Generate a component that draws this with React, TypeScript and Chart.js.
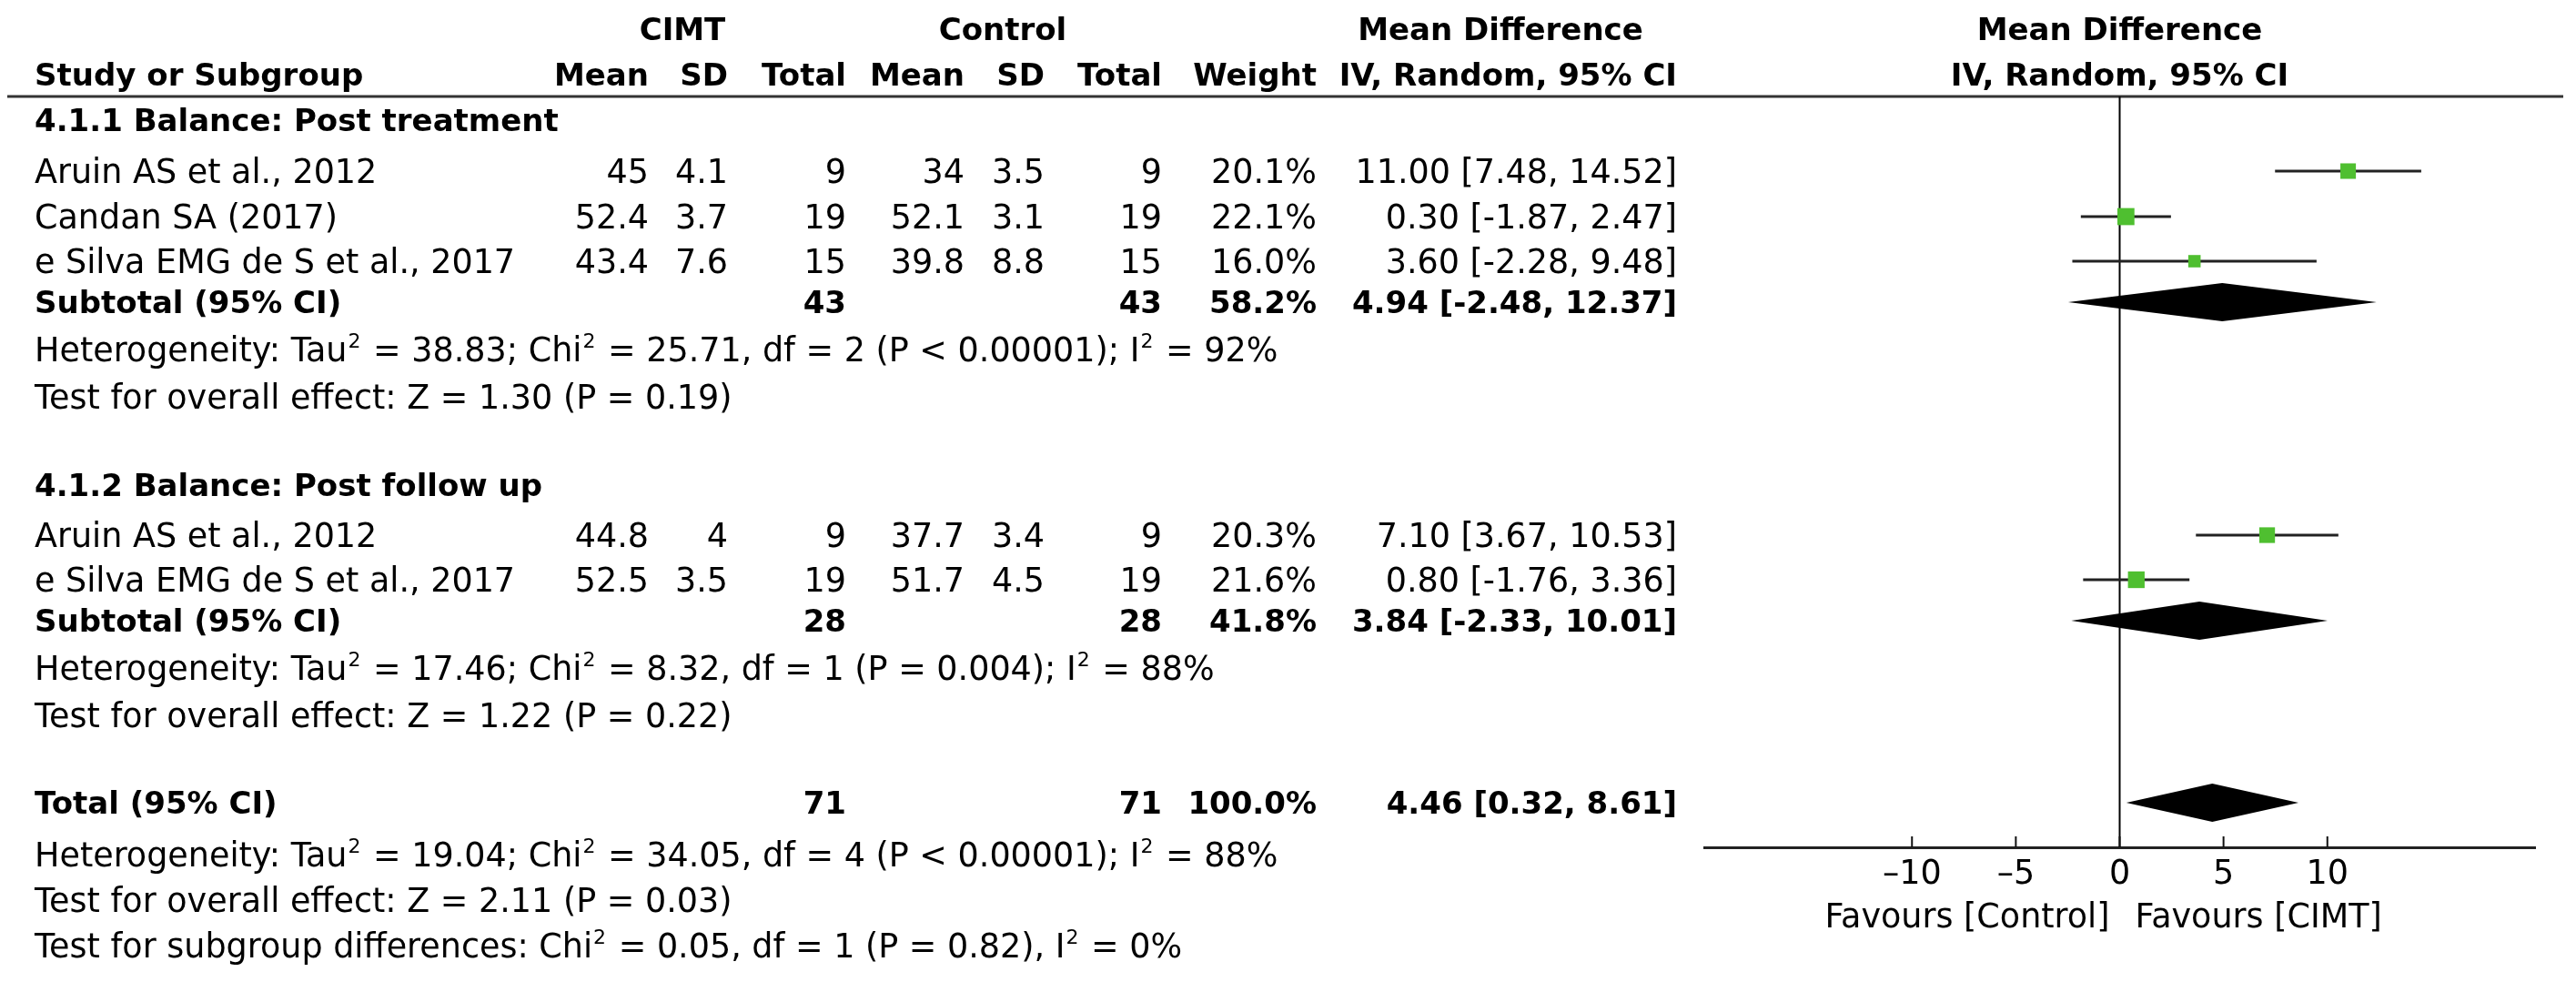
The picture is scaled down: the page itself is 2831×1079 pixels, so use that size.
import React, { useEffect, useRef } from "react";
import { Chart, registerables } from "chart.js";

Chart.register(...registerables);

// ---------- data ----------
const groupNames = ["4.1.1 Balance: Post treatment", "4.1.2 Balance: Post follow up"];
const studyNames = [
  "Aruin AS et al., 2012",
  "Candan SA (2017)",
  "e Silva EMG de S et al., 2017",
  "Aruin AS et al., 2012",
  "e Silva EMG de S et al., 2017",
];
const studyGroup = [0, 0, 0, 1, 1];
const cimtMean = [45, 52.4, 43.4, 44.8, 52.5];
const cimtSD = [4.1, 3.7, 7.6, 4, 3.5];
const cimtTotal = [9, 19, 15, 9, 19];
const ctrlMean = [34, 52.1, 39.8, 37.7, 51.7];
const ctrlSD = [3.5, 3.1, 8.8, 3.4, 4.5];
const ctrlTotal = [9, 19, 15, 9, 19];
const weights = [20.1, 22.1, 16.0, 20.3, 21.6];
const meanDiff = [11.0, 0.3, 3.6, 7.1, 0.8];
const ciLow = [7.48, -1.87, -2.28, 3.67, -1.76];
const ciHigh = [14.52, 2.47, 9.48, 10.53, 3.36];

const subCimtTotal = [43, 28];
const subCtrlTotal = [43, 28];
const subWeight = [58.2, 41.8];
const subMD = [4.94, 3.84];
const subLow = [-2.48, -2.33];
const subHigh = [12.37, 10.01];
const subHeterogeneity = [
  "Heterogeneity: Tau\u00b2 = 38.83; Chi\u00b2 = 25.71, df = 2 (P < 0.00001); I\u00b2 = 92%",
  "Heterogeneity: Tau\u00b2 = 17.46; Chi\u00b2 = 8.32, df = 1 (P = 0.004); I\u00b2 = 88%",
];
const subOverall = [
  "Test for overall effect: Z = 1.30 (P = 0.19)",
  "Test for overall effect: Z = 1.22 (P = 0.22)",
];

const totalCimt = 71;
const totalCtrl = 71;
const totalWeight = 100.0;
const totalMD = 4.46;
const totalLow = 0.32;
const totalHigh = 8.61;
const totalLines = [
  "Heterogeneity: Tau\u00b2 = 19.04; Chi\u00b2 = 34.05, df = 4 (P < 0.00001); I\u00b2 = 88%",
  "Test for overall effect: Z = 2.11 (P = 0.03)",
  "Test for subgroup differences: Chi\u00b2 = 0.05, df = 1 (P = 0.82), I\u00b2 = 0%",
];

const tickValues = [-10, -5, 0, 5, 10];
const axisMin = -20;
const axisMax = 20;

// ---------- layout (row positions on the y scale, column pixel anchors) ----------
const W = 2831;
const H = 1079;
const FAMILY = '"DejaVu Sans", sans-serif';
const REG = 36.5;
const BOLD = 34;
const SUP = 22;

const headRows = [-1.48, -0.48];
const groupRows = [0.52, 8.54];
const studyRows = [1.64, 2.64, 3.62, 9.64, 10.62];
const subRows = [4.52, 11.52];
const hetRows = [5.56, 12.56];
const overallRows = [6.6, 13.6];
const totalRow = 15.52;
const totalTextRows = [16.66, 17.66, 18.66];

const COL = {
  name: 38,
  cMean: 713,
  cSD: 800,
  cTot: 930,
  kMean: 1060,
  kSD: 1148,
  kTot: 1277,
  weight: 1447,
  ci: 1843,
  hCIMT: 750,
  hCtrl: 1102,
  hMD: 1649,
};

const fmtCI = (m: number, lo: number, hi: number) =>
  `${m.toFixed(2)} [${lo.toFixed(2)}, ${hi.toFixed(2)}]`;

const forestPlugin = {
  id: "forest",
  beforeDatasetsDraw(chart: any) {
    const { ctx, chartArea, scales } = chart;
    const x = scales.x;
    ctx.save();
    // header rule
    ctx.strokeStyle = "#333";
    ctx.lineWidth = 3;
    ctx.beginPath();
    ctx.moveTo(8, chartArea.top);
    ctx.lineTo(2817, chartArea.top);
    ctx.stroke();
    // line of no effect
    const x0 = x.getPixelForValue(0);
    ctx.strokeStyle = "#000";
    ctx.lineWidth = 2;
    ctx.beginPath();
    ctx.moveTo(x0, chartArea.top);
    ctx.lineTo(x0, chartArea.bottom);
    ctx.stroke();
    // upward tick marks
    ctx.lineWidth = 2;
    ctx.strokeStyle = "#111";
    tickValues.forEach((v) => {
      const px = x.getPixelForValue(v);
      ctx.beginPath();
      ctx.moveTo(px, chartArea.bottom);
      ctx.lineTo(px, chartArea.bottom - 12);
      ctx.stroke();
    });
    ctx.restore();
  },
  afterDatasetsDraw(chart: any) {
    const { ctx, scales } = chart;
    const x = scales.x;
    const y = scales.y;
    const diamonds = [
      ...subMD.map((m, i) => ({ m, lo: subLow[i], hi: subHigh[i], r: subRows[i] })),
      { m: totalMD, lo: totalLow, hi: totalHigh, r: totalRow },
    ];
    ctx.save();
    ctx.fillStyle = "#000";
    diamonds.forEach((d) => {
      const cy = y.getPixelForValue(d.r);
      const half = 21;
      ctx.beginPath();
      ctx.moveTo(x.getPixelForValue(d.lo), cy);
      ctx.lineTo(x.getPixelForValue(d.m), cy - half);
      ctx.lineTo(x.getPixelForValue(d.hi), cy);
      ctx.lineTo(x.getPixelForValue(d.m), cy + half);
      ctx.closePath();
      ctx.fill();
    });
    ctx.restore();
  },
  afterDraw(chart: any) {
    const { ctx, scales, chartArea } = chart;
    const x = scales.x;
    const y = scales.y;
    const x0 = x.getPixelForValue(0);
    ctx.save();
    ctx.fillStyle = "#000";
    ctx.textBaseline = "alphabetic";
    const put = (s: string, px: number, row: number, align: CanvasTextAlign, bold = false) => {
      const size = bold ? BOLD : REG;
      const base = `${bold ? "bold " : ""}${size}px ${FAMILY}`;
      const sup = `${bold ? "bold " : ""}${SUP}px ${FAMILY}`;
      const by = y.getPixelForValue(row) + size * 0.365;
      const parts = s.split("\u00b2");
      // measure
      ctx.font = base;
      let total = 0;
      const widths: number[] = [];
      parts.forEach((p, i) => {
        ctx.font = base;
        const w = ctx.measureText(p).width;
        widths.push(w);
        total += w;
        if (i < parts.length - 1) {
          ctx.font = sup;
          total += ctx.measureText("2").width + 3;
        }
      });
      let start = px;
      if (align === "right") start = px - total;
      else if (align === "center") start = px - total / 2;
      ctx.textAlign = "left";
      let cx = start;
      parts.forEach((p, i) => {
        ctx.font = base;
        ctx.fillText(p, cx, by);
        cx += widths[i];
        if (i < parts.length - 1) {
          ctx.font = sup;
          ctx.fillText("2", cx + 1, by - size * 0.42);
          cx += ctx.measureText("2").width + 3;
        }
      });
    };
    // headers
    put("CIMT", COL.hCIMT, headRows[0], "center", true);
    put("Control", COL.hCtrl, headRows[0], "center", true);
    put("Mean Difference", COL.hMD, headRows[0], "center", true);
    put("Mean Difference", x0, headRows[0], "center", true);
    put("Study or Subgroup", COL.name, headRows[1], "left", true);
    put("Mean", COL.cMean, headRows[1], "right", true);
    put("SD", COL.cSD, headRows[1], "right", true);
    put("Total", COL.cTot, headRows[1], "right", true);
    put("Mean", COL.kMean, headRows[1], "right", true);
    put("SD", COL.kSD, headRows[1], "right", true);
    put("Total", COL.kTot, headRows[1], "right", true);
    put("Weight", COL.weight, headRows[1], "right", true);
    put("IV, Random, 95% CI", COL.ci, headRows[1], "right", true);
    put("IV, Random, 95% CI", x0, headRows[1], "center", true);

    groupNames.forEach((g, gi) => {
      put(g, COL.name, groupRows[gi], "left", true);
      put("Subtotal (95% CI)", COL.name, subRows[gi], "left", true);
      put(String(subCimtTotal[gi]), COL.cTot, subRows[gi], "right", true);
      put(String(subCtrlTotal[gi]), COL.kTot, subRows[gi], "right", true);
      put(`${subWeight[gi].toFixed(1)}%`, COL.weight, subRows[gi], "right", true);
      put(fmtCI(subMD[gi], subLow[gi], subHigh[gi]), COL.ci, subRows[gi], "right", true);
      put(subHeterogeneity[gi], COL.name, hetRows[gi], "left");
      put(subOverall[gi], COL.name, overallRows[gi], "left");
    });

    studyNames.forEach((n, i) => {
      const r = studyRows[i];
      put(n, COL.name, r, "left");
      put(String(cimtMean[i]), COL.cMean, r, "right");
      put(String(cimtSD[i]), COL.cSD, r, "right");
      put(String(cimtTotal[i]), COL.cTot, r, "right");
      put(String(ctrlMean[i]), COL.kMean, r, "right");
      put(String(ctrlSD[i]), COL.kSD, r, "right");
      put(String(ctrlTotal[i]), COL.kTot, r, "right");
      put(`${weights[i].toFixed(1)}%`, COL.weight, r, "right");
      put(fmtCI(meanDiff[i], ciLow[i], ciHigh[i]), COL.ci, r, "right");
    });

    put("Total (95% CI)", COL.name, totalRow, "left", true);
    put(String(totalCimt), COL.cTot, totalRow, "right", true);
    put(String(totalCtrl), COL.kTot, totalRow, "right", true);
    put(`${totalWeight.toFixed(1)}%`, COL.weight, totalRow, "right", true);
    put(fmtCI(totalMD, totalLow, totalHigh), COL.ci, totalRow, "right", true);
    totalLines.forEach((t, i) => put(t, COL.name, totalTextRows[i], "left"));

    // favours labels
    ctx.font = `${REG}px ${FAMILY}`;
    const fy = chartArea.bottom + 75 + REG * 0.365;
    ctx.textAlign = "right";
    ctx.fillText("Favours [Control]", x0 - 11, fy);
    ctx.textAlign = "left";
    ctx.fillText("Favours [CIMT]", x0 + 17, fy);
    ctx.restore();
  },
};

export default function App() {
  const ref = useRef<HTMLCanvasElement | null>(null);
  useEffect(() => {
    const canvas = ref.current;
    if (!canvas) return;
    const ciSets = meanDiff.map((_, i) => ({
      type: "line" as const,
      label: `ci${i}`,
      data: [
        { x: ciLow[i], y: studyRows[i] },
        { x: ciHigh[i], y: studyRows[i] },
      ],
      borderColor: "#222",
      borderWidth: 3,
      pointRadius: 0,
      fill: false,
    }));
    const chart = new Chart(canvas, {
      type: "line",
      data: {
        datasets: [
          {
            label: "studies",
            data: meanDiff.map((m, i) => ({ x: m, y: studyRows[i] })),
            showLine: false,
            pointStyle: "rect",
            pointRadius: weights.map((w) => w * 0.6),
            pointBackgroundColor: "#4fbf30",
            pointBorderWidth: 0,
            pointBorderColor: "#4fbf30",
          } as any,
          ...ciSets,
        ],
      },
      options: {
        responsive: false,
        animation: false,
        devicePixelRatio: 1,
        events: [],
        layout: { padding: { left: 1873, right: 45, top: 106, bottom: 88 } },
        plugins: { legend: { display: false }, tooltip: { enabled: false } },
        scales: {
          x: {
            type: "linear",
            min: axisMin,
            max: axisMax,
            afterBuildTicks: (s: any) => {
              s.ticks = tickValues.map((v) => ({ value: v }));
            },
            afterFit: (s: any) => {
              s.height = 60;
            },
            grid: { display: false, drawTicks: false },
            border: { display: true, color: "#222", width: 3 },
            ticks: {
              padding: 9,
              color: "#000",
              autoSkip: false,
              maxRotation: 0,
              font: { family: FAMILY, size: REG },
              callback: (v: any) => (Number(v) < 0 ? "\u2013" + Math.abs(Number(v)) : String(v)),
            },
          },
          y: { type: "linear", min: 0, max: 16.5, reverse: true, display: false },
        },
      },
      plugins: [forestPlugin],
    });
    return () => chart.destroy();
  }, []);
  return (
    <div style={{ position: "fixed", left: 0, top: 0, width: W, height: H, background: "#fff" }}>
      <canvas ref={ref} width={W} height={H} style={{ width: W, height: H, display: "block" }} />
    </div>
  );
}
